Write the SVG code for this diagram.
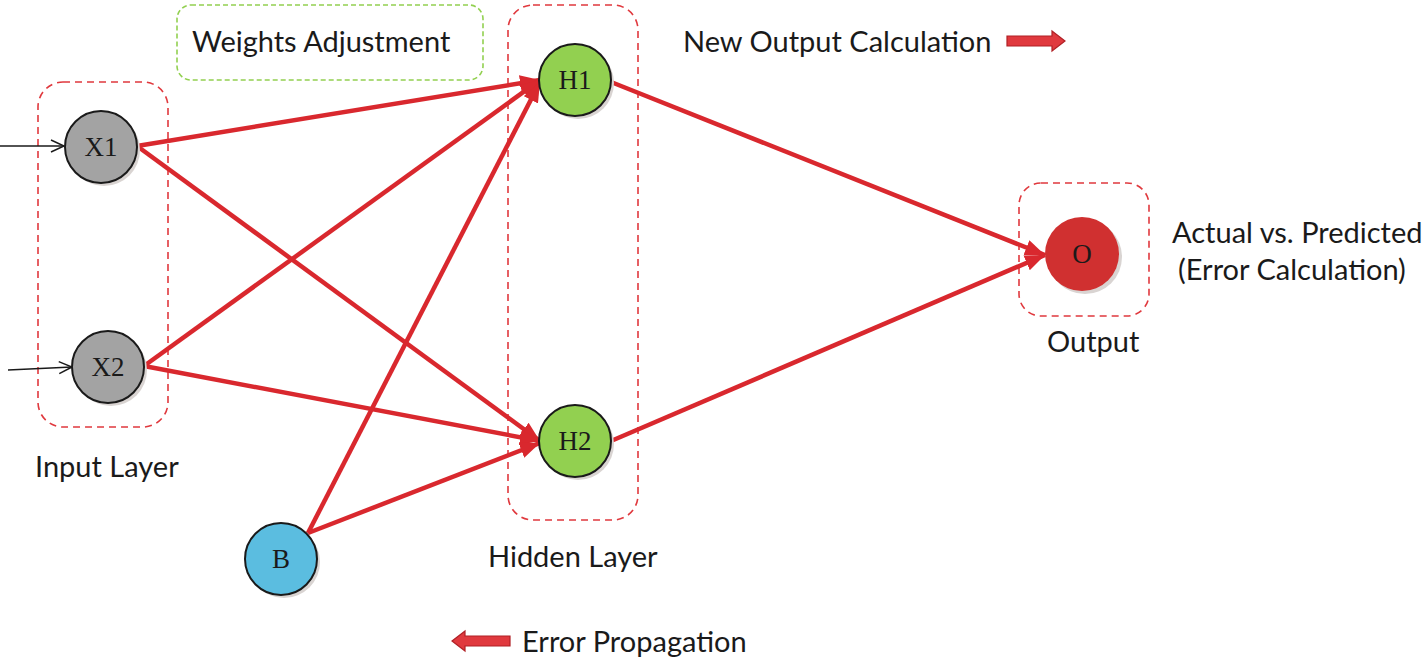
<svg xmlns="http://www.w3.org/2000/svg" width="1425" height="662" viewBox="0 0 1425 662">
<style>
.box{fill:none;stroke:#e0393e;stroke-width:1.6;stroke-dasharray:7 5}
.gbox{fill:#fff;stroke:#92d050;stroke-width:1.6;stroke-dasharray:5 3}
.lbl{font-family:Lato,"Liberation Sans",sans-serif;font-size:29px;fill:#1a1a1a}
.nt{font-family:"Liberation Serif",serif;font-size:27px;fill:#1a1a1a;text-anchor:middle;dominant-baseline:central}
.node{stroke:#1a1a1a;stroke-width:2}
.sh{fill:#d9d4d2}
.edge{stroke:#d9282e;stroke-width:4.5;fill:none;marker-end:url(#ah)}
.in{stroke:#1a1a1a;stroke-width:1.5;fill:none;marker-end:url(#oa)}
.big{fill:#e0393e;stroke:#b02025;stroke-width:1.2}
</style>
<defs>
<marker id="ah" markerUnits="userSpaceOnUse" markerWidth="22" markerHeight="16" refX="20" refY="8" orient="auto">
<path d="M0,0 L20,8 L0,16 Z" fill="#d9282e"/>
</marker>
<marker id="oa" markerUnits="userSpaceOnUse" markerWidth="16" markerHeight="14" refX="14" refY="7" orient="auto">
<path d="M1,1 L14,7 L1,13" fill="none" stroke="#1a1a1a" stroke-width="1.5"/>
</marker>
</defs>
<rect width="1425" height="662" fill="#fff"/>

<g id="input-layer">
<rect class="box" x="38" y="82" width="130" height="345" rx="25"/>
<text class="lbl" x="35" y="477">Input Layer</text>
</g>
<g id="hidden-layer">
<rect class="box" x="508" y="5" width="130" height="515" rx="25"/>
<text class="lbl" x="488" y="567">Hidden Layer</text>
</g>
<g id="output-layer">
<rect class="box" x="1019" y="183" width="130" height="133" rx="22"/>
<text class="lbl" x="1047" y="352">Output</text>
</g>
<g id="weights-adjustment">
<rect class="gbox" x="177" y="5" width="306" height="75" rx="14"/>
<text class="lbl" x="192" y="52">Weights Adjustment</text>
</g>
<g id="new-output">
<text class="lbl" x="683" y="52">New Output Calculation</text>
<path class="big" d="M1007,36 L1052,36 L1052,31 L1065,41 L1052,51 L1052,46 L1007,46 Z"/>
</g>
<g id="error-propagation">
<path class="big" d="M510,636 L465,636 L465,631 L452,641 L465,651 L465,646 L510,646 Z"/>
<text class="lbl" x="522" y="652">Error Propagation</text>
</g>
<g id="error-calc">
<text class="lbl" x="1172" y="243">Actual vs. Predicted</text>
<text class="lbl" x="1178" y="280">(Error Calculation)</text>
</g>

<g id="connectors">
<line class="in" x1="0" y1="146" x2="64" y2="146"/>
<line class="in" x1="8" y1="370" x2="72" y2="367"/>
<line class="edge" x1="137" y1="146" x2="540" y2="80"/>
<line class="edge" x1="137" y1="146" x2="540" y2="441"/>
<line class="edge" x1="144" y1="366" x2="540" y2="80"/>
<line class="edge" x1="144" y1="366" x2="540" y2="441"/>
<line class="edge" x1="308" y1="533" x2="540" y2="82"/>
<line class="edge" x1="308" y1="533" x2="540" y2="443"/>
<line class="edge" x1="611" y1="82" x2="1045" y2="255"/>
<line class="edge" x1="611" y1="441" x2="1045" y2="255"/>
</g>

<g id="X1">
<circle class="sh" cx="104" cy="150" r="36"/>
<circle class="node" cx="101" cy="147" r="36" fill="#a3a3a3"/>
<text class="nt" x="101" y="147">X1</text>
</g>
<g id="X2">
<circle class="sh" cx="111" cy="370" r="36"/>
<circle class="node" cx="108" cy="367" r="36" fill="#a3a3a3"/>
<text class="nt" x="108" y="367">X2</text>
</g>
<g id="H1">
<circle class="sh" cx="578" cy="83" r="36"/>
<circle class="node" cx="575" cy="80" r="36" fill="#92d050"/>
<text class="nt" x="575" y="80">H1</text>
</g>
<g id="H2">
<circle class="sh" cx="578" cy="444" r="36"/>
<circle class="node" cx="575" cy="441" r="36" fill="#92d050"/>
<text class="nt" x="575" y="441">H2</text>
</g>
<g id="B">
<circle class="sh" cx="284" cy="562" r="36"/>
<circle class="node" cx="281" cy="559" r="36" fill="#5bbde0"/>
<text class="nt" x="281" y="559">B</text>
</g>
<g id="O">
<circle class="sh" cx="1085" cy="257" r="37"/>
<circle cx="1082" cy="254" r="37" fill="#d03030"/>
<text class="nt" x="1082" y="254">O</text>
</g>
</svg>
